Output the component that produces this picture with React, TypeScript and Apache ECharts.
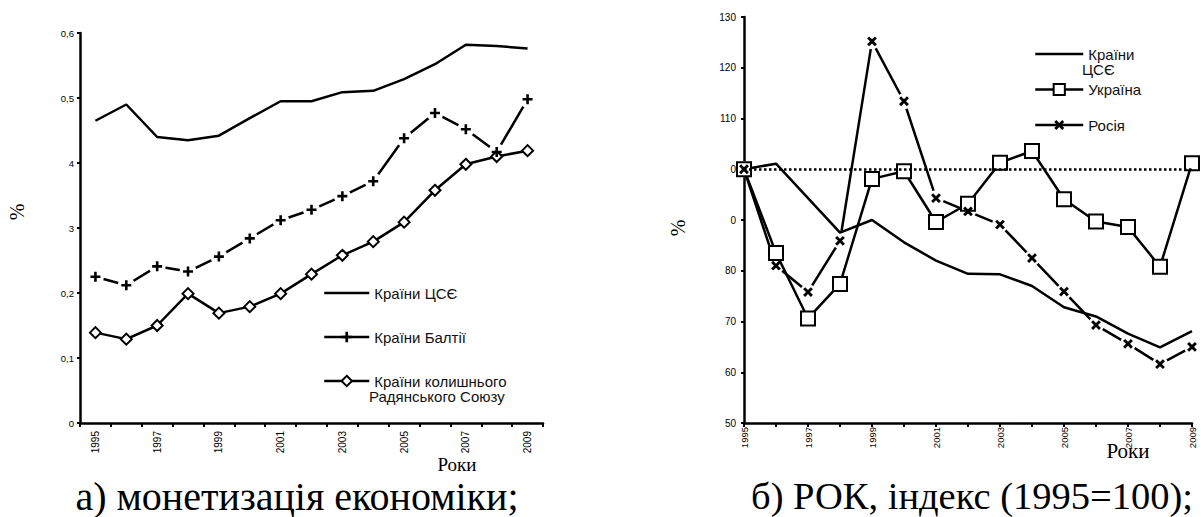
import React, { useEffect, useRef } from 'react';
import * as echarts from 'echarts';

const years = ['1995', '1996', '1997', '1998', '1999', '2000', '2001', '2002', '2003', '2004', '2005', '2006', '2007', '2008', '2009'];

// a) monetization
const monCSE = [0.465, 0.49, 0.44, 0.435, 0.442, 0.469, 0.495, 0.495, 0.509, 0.511, 0.529, 0.552, 0.582, 0.58, 0.576];
const monBaltic = [0.225, 0.212, 0.241, 0.233, 0.256, 0.284, 0.312, 0.328, 0.349, 0.372, 0.438, 0.477, 0.452, 0.417, 0.498];
const monFSU = [0.139, 0.129, 0.15, 0.199, 0.169, 0.179, 0.199, 0.229, 0.258, 0.279, 0.309, 0.358, 0.398, 0.41, 0.419];
const monTicks = ['0', '0,1', '0,2', '3', '4', '0,5', '0,6'];

// b) GDP index
const rocCSE = [100, 101.1, 94.3, 87.5, 90.0, 85.6, 82.0, 79.4, 79.3, 77.0, 72.8, 71.0, 67.6, 64.9, 68.1];
const rocUkraine = [100, 83.5, 70.6, 77.4, 98.1, 99.6, 89.6, 93.2, 101.3, 103.6, 94.1, 89.7, 88.6, 80.8, 101.2];
const rocRussia = [100, 81.0, 75.8, 85.9, 125.2, 113.4, 94.3, 91.7, 89.1, 82.5, 75.9, 69.3, 65.6, 61.6, 65.0];
const rocTicks = ['50', '60', '70', '80', '0', '0', '110', '120', '130'];

const nameCSE = 'Країни ЦСЄ';
const nameBaltic = 'Країни Балтії';
const nameFSU = 'Країни колишнього Радянського Союзу';
const nameUkraine = 'Україна';
const nameRussia = 'Росія';

const PLUS = 'path://M3.7,0L6.3,0L6.3,3.7L10,3.7L10,6.3L6.3,6.3L6.3,10L3.7,10L3.7,6.3L0,6.3L0,3.7L3.7,3.7Z';

export default function App() {
  const ref = useRef<HTMLDivElement>(null);
  useEffect(() => {
    const chart = echarts.init(ref.current!, null, { renderer: 'svg' });
    const sans = "'Liberation Sans', Arial, sans-serif";
    const serif = "'Liberation Serif', 'Times New Roman', serif";
    const axisLine = { show: true, lineStyle: { color: '#000', width: 2.5 } };
    const axisTick = { show: true, length: 4, lineStyle: { color: '#000', width: 2 } };
    const lineStyle = { color: '#000', width: 2.5 };
    const hiddenLine = { color: '#000', width: 2.5, opacity: 0 };
    const legendText = { fontSize: 15, fontFamily: sans, color: '#111', lineHeight: 16 };

    // white halo under a marker so the line breaks around it
    const mask = (name: string, x: number, data: number[], size: number, z: number) => ({
      name, type: 'line', xAxisIndex: x, yAxisIndex: x, data, z, silent: true,
      symbol: 'circle', symbolSize: size, showAllSymbol: true, lineStyle: hiddenLine,
      itemStyle: { color: '#fff', borderWidth: 0 },
    });
    const marks = (name: string, x: number, data: number[], size: number, rotate: number, z: number) => ({
      name, type: 'line', xAxisIndex: x, yAxisIndex: x, data, z, silent: true,
      symbol: PLUS, symbolSize: size, symbolRotate: rotate, showAllSymbol: true, lineStyle: hiddenLine,
      itemStyle: { color: '#000' },
    });

    chart.setOption({
      animation: false,
      backgroundColor: '#fff',
      grid: [
        { left: 80, top: 33, width: 463, height: 390 },
        { left: 744, top: 17, width: 448, height: 406 },
      ],
      xAxis: [
        {
          type: 'category', gridIndex: 0, data: years, boundaryGap: true,
          axisLine, axisTick: { ...axisTick, interval: 0 }, splitLine: { show: false },
          axisLabel: { interval: 1, rotate: 90, fontSize: 10, fontFamily: sans, color: '#000', margin: 8 },
        },
        {
          type: 'category', gridIndex: 1, data: years, boundaryGap: false,
          axisLine, axisTick: { ...axisTick, interval: 0 }, splitLine: { show: false },
          axisLabel: { interval: 1, rotate: 90, fontSize: 9.5, fontFamily: sans, color: '#000', margin: 4 },
        },
      ],
      yAxis: [
        {
          type: 'value', gridIndex: 0, min: 0, max: 0.6, interval: 0.1,
          axisLine, axisTick: { ...axisTick, length: 3 }, splitLine: { show: false },
          axisLabel: { formatter: (v: number) => monTicks[Math.round(v * 10)], fontSize: 9.5, fontFamily: sans, color: '#000', margin: 6 },
        },
        {
          type: 'value', gridIndex: 1, min: 50, max: 130, interval: 10,
          axisLine, axisTick: { ...axisTick, length: 3 }, splitLine: { show: false },
          axisLabel: { formatter: (v: number) => rocTicks[Math.round((v - 50) / 10)], fontSize: 10, fontFamily: sans, color: '#000', margin: 8 },
        },
      ],
      legend: [
        {
          orient: 'vertical', left: 318, top: 280, itemWidth: 45, itemHeight: 13, itemGap: 28,
          selectedMode: false, textStyle: legendText, lineStyle: { width: 2.5 },
          data: [{ name: nameCSE, itemStyle: { opacity: 0 } }, nameBaltic, nameFSU],
          formatter: (n: string) => (n === nameFSU ? 'Країни колишнього' : n),
        },
        {
          orient: 'vertical', left: 1029, top: 41, itemWidth: 48, itemHeight: 14, itemGap: 19.5,
          selectedMode: false, textStyle: legendText, lineStyle: { width: 2.5 },
          data: [{ name: nameCSE, itemStyle: { opacity: 0 } }, nameUkraine, nameRussia],
          formatter: (n: string) => (n === nameCSE ? 'Країни' : n),
        },
      ],
      series: [
        // a)
        {
          name: nameCSE, type: 'line', xAxisIndex: 0, yAxisIndex: 0, data: monCSE, z: 2,
          symbol: 'circle', showSymbol: false, lineStyle, itemStyle: { color: '#000' },
        },
        {
          name: nameBaltic, type: 'line', xAxisIndex: 0, yAxisIndex: 0, data: monBaltic, z: 2,
          symbol: PLUS, symbolSize: 10, showSymbol: false, lineStyle, itemStyle: { color: '#000' },
        },
        mask('baltic-halo', 0, monBaltic, 17, 3),
        {
          name: nameFSU, type: 'line', xAxisIndex: 0, yAxisIndex: 0, data: monFSU, z: 4,
          symbol: 'emptyDiamond', symbolSize: 11, lineStyle, itemStyle: { color: '#000', borderWidth: 2 },
        },
        marks('baltic-marks', 0, monBaltic, 10, 0, 5),
        // b)
        {
          name: nameRussia, type: 'line', xAxisIndex: 1, yAxisIndex: 1, data: rocRussia, z: 2,
          symbol: PLUS, symbolSize: 11, symbolRotate: 45, showSymbol: false, lineStyle, itemStyle: { color: '#000' },
        },
        mask('russia-halo', 1, rocRussia, 16, 3),
        {
          name: nameCSE, type: 'line', xAxisIndex: 1, yAxisIndex: 1, data: rocCSE, z: 4,
          symbol: 'circle', showSymbol: false, lineStyle, itemStyle: { color: '#000' },
          markLine: {
            silent: true, symbol: 'none', label: { show: false },
            lineStyle: { type: 'dotted', color: '#000', width: 2.5 },
            data: [{ yAxis: 100 }],
          },
        },
        {
          name: nameUkraine, type: 'line', xAxisIndex: 1, yAxisIndex: 1, data: rocUkraine, z: 4,
          symbol: 'emptyRect', symbolSize: 14, lineStyle, itemStyle: { color: '#000', borderWidth: 2.5 },
        },
        marks('russia-marks', 1, rocRussia, 11, 45, 5),
      ],
      graphic: [
        { type: 'text', x: 369, y: 396, style: { text: 'Радянського Союзу', fontSize: 15, fontFamily: sans, fill: '#111', verticalAlign: 'middle' } },
        { type: 'text', x: 1082, y: 69, style: { text: 'ЦСЄ', fontSize: 15, fontFamily: sans, fill: '#111', verticalAlign: 'middle' } },
        { type: 'text', x: 17, y: 212, rotation: Math.PI / 2, style: { text: '%', fontSize: 20, fontFamily: serif, fill: '#000', align: 'center', verticalAlign: 'middle' } },
        { type: 'text', x: 678, y: 228, rotation: Math.PI / 2, style: { text: '%', fontSize: 20, fontFamily: serif, fill: '#000', align: 'center', verticalAlign: 'middle' } },
        { type: 'text', x: 457, y: 464, style: { text: 'Роки', fontSize: 19, lineHeight: 18, fontFamily: serif, fill: '#000', align: 'center', verticalAlign: 'middle' } },
        { type: 'text', x: 1128, y: 451, style: { text: 'Роки', fontSize: 21, lineHeight: 19, fontFamily: serif, fill: '#000', align: 'center', verticalAlign: 'middle' } },
        { type: 'text', x: 297, y: 496, style: { text: 'а) монетизація економіки;', fontSize: 40, lineHeight: 28, fontFamily: serif, fill: '#000', align: 'center', verticalAlign: 'middle' } },
        { type: 'text', x: 972, y: 496, style: { text: 'б) РОК, індекс (1995=100);', fontSize: 38.5, lineHeight: 28, fontFamily: serif, fill: '#000', align: 'center', verticalAlign: 'middle' } },
      ],
    });
    return () => chart.dispose();
  }, []);
  return <div ref={ref} style={{ position: 'fixed', left: 0, top: 0, width: 1201, height: 517, background: '#fff' }} />;
}
